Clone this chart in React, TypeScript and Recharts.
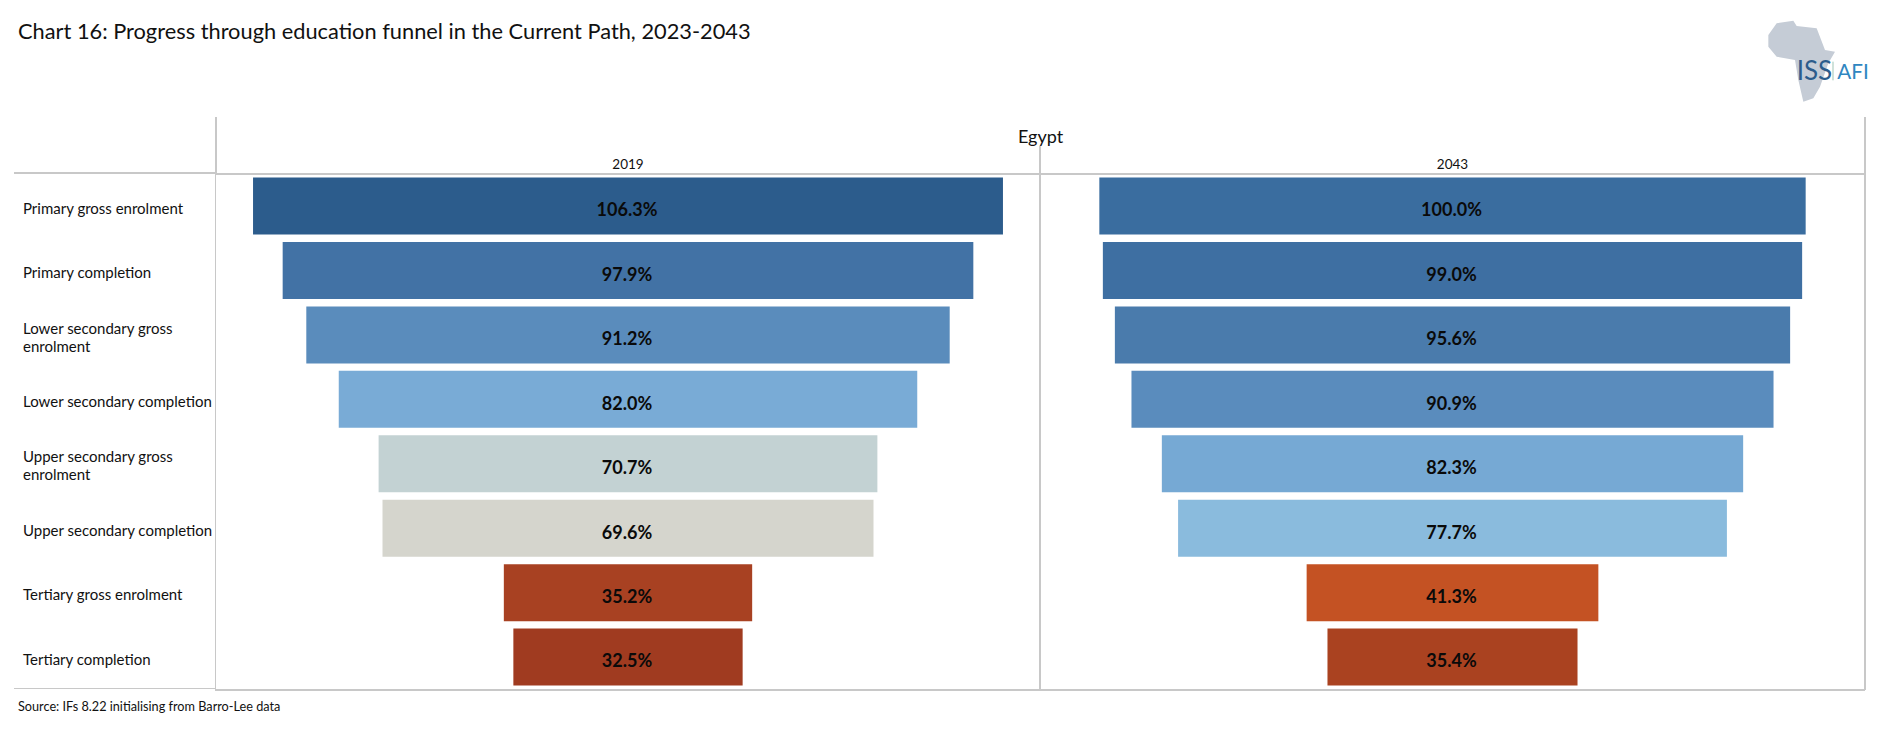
import React from "react";
import { BarChart, Bar, Cell, XAxis, YAxis, LabelList } from "recharts";

const categories = [
  "Primary gross enrolment",
  "Primary completion",
  "Lower secondary gross enrolment",
  "Lower secondary completion",
  "Upper secondary gross enrolment",
  "Upper secondary completion",
  "Tertiary gross enrolment",
  "Tertiary completion",
];
const values2019 = [106.3, 97.9, 91.2, 82.0, 70.7, 69.6, 35.2, 32.5];
const values2043 = [100.0, 99.0, 95.6, 90.9, 82.3, 77.7, 41.3, 35.4];
const colors2019 = ["#2C5C8C", "#4272A5", "#5A8CBC", "#79ABD6", "#C3D2D3", "#D5D5CD", "#A84122", "#A03B20"];
const colors2043 = ["#3A6D9F", "#3E6FA2", "#4A7BAC", "#5A8CBD", "#76A9D4", "#8ABBDD", "#C45223", "#AA4220"];

const FONT = "Lato, 'Noto Sans', sans-serif";
const LINE = "#c8c8c8";
const PLOT_TOP = 173.5;
const PLOT_BOTTOM = 689;
const HEIGHT = 739;

const toRows = (values: number[]) =>
  values.map((v, i) => ({ name: categories[i], value: v, range: [-v / 2, v / 2] }));

// left aligned category label, long ones go on two lines
const CategoryTick = ({ y, payload }: any) => {
  const text: string = payload.value;
  const lines = text.endsWith("gross enrolment") && text.length > 26
    ? [text.replace(" enrolment", ""), "enrolment"]
    : [text];
  return (
    <text x={23} y={y} fontSize={15} fontFamily={FONT} fill="#111">
      {lines.map((l, i) => (
        <tspan key={l} x={23} y={y + 8 + (i - (lines.length - 1) / 2) * 18}>{l}</tspan>
      ))}
    </text>
  );
};

const Panel: React.FC<{
  values: number[];
  colors: string[];
  year: string;
  left: number;
  width: number;
  marginLeft: number;
  showCategories?: boolean;
}> = ({ values, colors, year, left, width, marginLeft, showCategories }) => (
  <div style={{ position: "absolute", left, top: 0 }}>
    <BarChart
      width={width}
      height={HEIGHT}
      layout="vertical"
      data={toRows(values)}
      margin={{ top: PLOT_TOP, bottom: HEIGHT - PLOT_BOTTOM, left: marginLeft, right: 0 }}
      barCategoryGap={0}
    >
      <XAxis type="number" orientation="bottom" domain={[-58.4, 58.4]} hide />
      <YAxis
        type="category"
        dataKey="name"
        width={showCategories ? 216 : 0}
        hide={!showCategories}
        axisLine={false}
        tickLine={false}
        interval={0}
        tick={<CategoryTick />}
      />
      <Bar dataKey="range" barSize={57} isAnimationActive={false}>
        {values.map((v, i) => (
          <Cell key={categories[i]} fill={colors[i]} />
        ))}
        <LabelList
          dataKey="value"
          position="center"
          dy={4}
          dx={-1}
          formatter={(v: number) => `${v.toFixed(1)}%`}
          style={{ fontFamily: FONT, fontSize: 18, fontWeight: 700, fill: "#0a0a0a" }}
        />
      </Bar>
    </BarChart>
    <div
      style={{
        position: "absolute",
        left: marginLeft + (showCategories ? 216 : 0),
        right: 0,
        top: 156,
        textAlign: "center",
        fontFamily: FONT,
        fontSize: 13.5,
        lineHeight: "16px",
        color: "#111",
      }}
    >
      {year}
    </div>
  </div>
);

const rule = (left: number, top: number, width: number, height: number) => (
  <div style={{ position: "absolute", left, top, width, height, background: LINE }} />
);

const Logo = () => (
  <svg style={{ position: "absolute", left: 1500, top: 0 }} width={380} height={120} viewBox="0 0 1140 360">
    <polygon
      fill="#C5CCD6"
      points="830,70 880,62 890,78 950,85 975,150 1005,155 985,190 960,260 940,295 910,305 895,240 885,180 830,170 805,140 805,105"
    />
    <text x={890} y={240} fontFamily={FONT} fontSize={78} fill="#2C5C8C">ISS</text>
    <rect x={997} y={185} width={4} height={56} fill="#B8D4C8" />
    <text x={1012} y={238} fontFamily={FONT} fontSize={62} fill="#2F86C1">AFI</text>
  </svg>
);

export default function App() {
  return (
    <div style={{ position: "absolute", left: 0, top: 0, width: 1880, height: HEIGHT, background: "#fff", overflow: "hidden" }}>
      <div style={{ position: "absolute", left: 18, top: 17, fontFamily: FONT, fontSize: 21.8, lineHeight: "28px", color: "#111" }}>
        Chart 16: Progress through education funnel in the Current Path, 2023-2043
      </div>
      <Panel values={values2019} colors={colors2019} year="2019" left={0} width={1040} marginLeft={0} showCategories />
      <Panel values={values2043} colors={colors2043} year="2043" left={1040} width={825} marginLeft={0} />
      <div style={{ position: "absolute", left: 216, width: 1649, top: 124, textAlign: "center", fontFamily: FONT, fontSize: 18, lineHeight: "24px", color: "#111" }}>
        Egypt
      </div>
      {rule(14, 172, 201, 2)}
      {rule(216, 173, 1649, 2)}
      {rule(14, 688, 201, 1)}
      {rule(215, 689, 1650, 2)}
      {rule(215, 117, 2, 56)}
      {rule(215, 173, 1, 516)}
      {rule(1039, 146, 2, 543)}
      {rule(1864, 117, 2, 573)}
      <div style={{ position: "absolute", left: 18, top: 697, fontFamily: FONT, fontSize: 12.7, lineHeight: "18px", color: "#111" }}>
        Source: IFs 8.22 initialising from Barro-Lee data
      </div>
      <Logo />
    </div>
  );
}
